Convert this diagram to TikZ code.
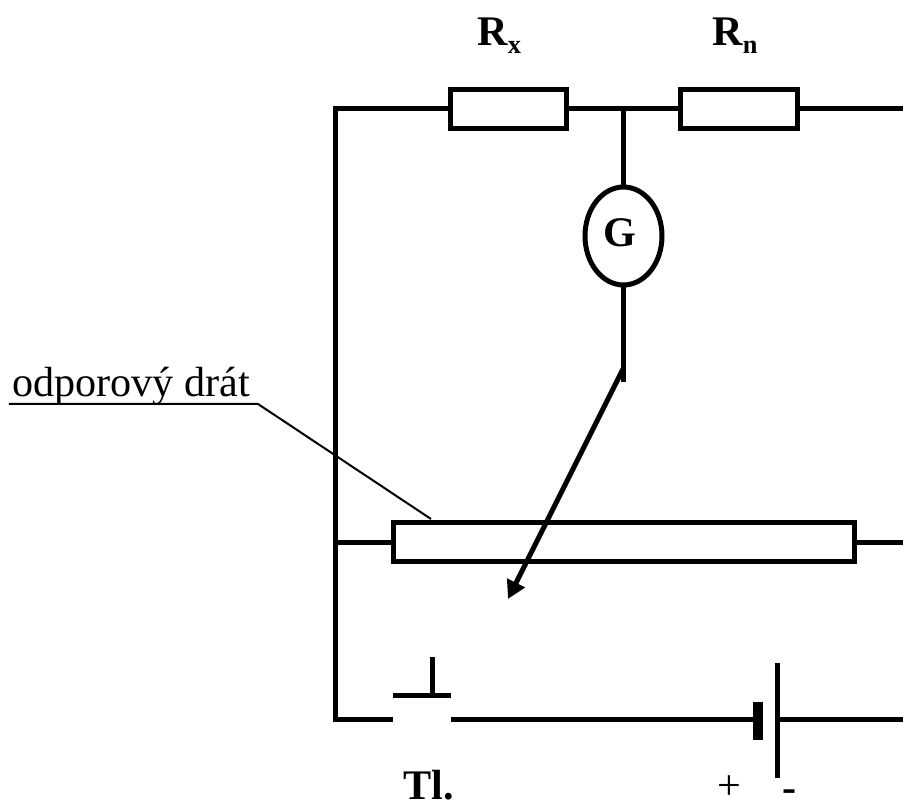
\documentclass[tikz,border=0pt]{standalone}
\usepackage{fontspec}
\setmainfont{Liberation Serif}
\usetikzlibrary{shapes.geometric,arrows.meta}
\tikzset{
  wire/.style = {line width = .1cm},
  thinwire/.style = {line width = .04cm},
  resistor/.style = {draw, rectangle, line width = .1cm, inner sep = 0, outer sep = 0, minimum height = .78cm},
  meter/.style = {draw, ellipse, line width = .1cm, inner sep = 0, outer sep = 0, minimum width = 1.54cm, minimum height = 1.96cm},
  label/.style = {inner sep = 0, font = \fontsize{24}{28}\selectfont},
  boldlabel/.style = {inner sep = 0, font = \fontsize{24}{28}\selectfont\bfseries}
}
\newcommand{\subs}[1]{{\fontsize{15}{15}\selectfont\raisebox{-.28em}{#1}}}
\begin{document}
\begin{tikzpicture}
\useasboundingbox (0,0) rectangle (18.06,16.1);

\node[resistor, minimum width = 2.31cm] (rx) at (10.165,13.92) {};
\node[resistor, minimum width = 2.33cm] (rn) at (14.775,13.92) {};
\node[meter] (galv) at (12.47,11.38) {};
\node[boldlabel, anchor = base] (glabel) at (12.4,11.16) {G};
\node[resistor, minimum width = 9.22cm] (drat) at (12.47,5.25) {};

\node[boldlabel, anchor = base west] (rxlabel) at (9.54,15.18) {R\subs{x}};
\node[boldlabel, anchor = base west] (rnlabel) at (14.24,15.18) {R\subs{n}};
\node[boldlabel, anchor = base west] (tl) at (8.06,.1) {Tl.};
\node[label, anchor = base] (plus) at (14.58,.1) {+};
\node[boldlabel, anchor = base] (minus) at (15.8,.06) {-};
\node[label, anchor = base west] (dratlabel) at (.24,8.16) {odporový drát};

\coordinate (topleft) at (6.7,13.92);
\coordinate (topright) at (18.06,13.92);
\coordinate (junction) at (12.47,13.92);
\coordinate (midleft) at (6.7,5.25);
\coordinate (midright) at (18.06,5.25);
\coordinate (botleft) at (6.7,1.7);
\coordinate (botright) at (18.06,1.7);

\draw[wire] (6.7,13.97) -- (botleft) -- ++(0,-.05);
\draw[wire] (topleft) -- (rx);
\draw[wire] (rx) -- (rn);
\draw[wire] (rn) -- (topright);
\draw[wire] (midleft) -- (drat);
\draw[wire] (drat) -- (midright);

% galvanometer and sliding contact
\coordinate (contact) at (12.47,8.46);
\coordinate (slidestart) at (12.47,8.74);
\coordinate (slidetip) at (10.16,4.12);
\draw[wire] (junction) -- (galv);
\draw[wire] (galv) -- (contact);
\draw[-{Triangle[length = .36cm, width = .38cm]}, wire] (slidestart) -- (slidetip);

% key
\coordinate (keyleft) at (7.86,1.7);
\coordinate (keyright) at (9.02,1.7);
\coordinate (barleft) at (7.86,2.18);
\coordinate (barright) at (9.02,2.18);
\coordinate (barmid) at (8.64,2.18);
\coordinate (stemtop) at (8.64,2.96);
\draw[wire] (botleft) -- (keyleft);
\draw[wire] (barleft) -- (barright);
\draw[wire] (barmid) -- (stemtop);

% cell
\coordinate (platea) at (15.16,1.7);
\coordinate (plateb) at (15.54,1.7);
\draw[wire] (keyright) -- (platea);
\draw[line width = .2cm] (15.16,2.06) -- (15.16,1.3);
\draw[wire] (15.54,2.84) -- (15.54,.54);
\draw[wire] (plateb) -- (botright);

% label leader
\coordinate (leadstart) at (.18,8.02);
\coordinate (leadbend) at (5.16,8.02);
\coordinate (leadend) at (8.62,5.72);
\draw[thinwire] (leadstart) -- (leadbend) -- (leadend);
\end{tikzpicture}
\end{document}
